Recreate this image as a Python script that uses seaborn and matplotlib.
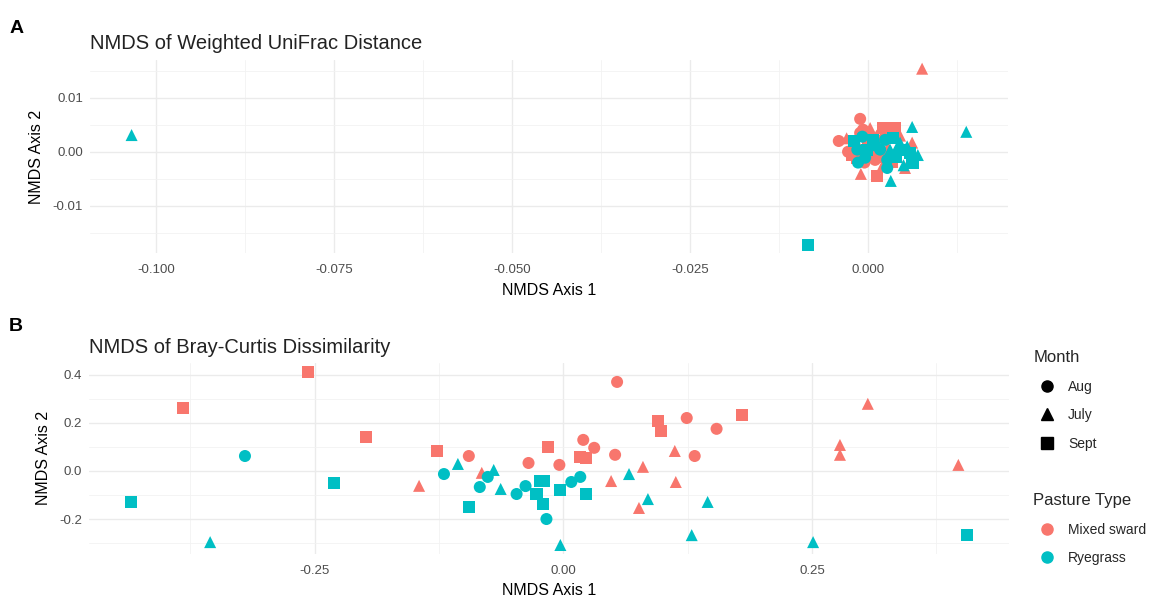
import matplotlib
matplotlib.use("Agg")
import matplotlib.pyplot as plt
from matplotlib.lines import Line2D
from matplotlib.ticker import MultipleLocator, FormatStrFormatter
import pandas as pd
import seaborn as sns

sns.set_theme(style="whitegrid")
plt.rcParams['font.family'] = ['Liberation Sans', 'DejaVu Sans']

months = ["Aug", "July", "Sept"]
pastures = ["Mixed sward", "Ryegrass"]
colors = {"Mixed sward": "#F8766D", "Ryegrass": "#00BFC4"}
markers = {"Aug": "o", "July": "^", "Sept": "s"}

# panel A: weighted UniFrac NMDS
a_mixed_x = [0.0076, -0.0011, -0.0041, -0.0010, 0.0013, 0.0062, 0.0041, 0.0052, 0.0021, 0.0031,
             -0.0007, 0.0003, -0.0028, -0.0022, 0.0007, 0.0017, 0.0021, -0.0011, 0.0038, 0.0000,
             0.0028, -0.0018, 0.0010, -0.0005, 0.0024, 0.0012, 0.0045, -0.0030, 0.0008, -0.0015, 0.0034]
a_mixed_y = [0.0154, 0.0061, 0.0020, -0.0041, -0.0044, 0.0017, -0.0009, -0.0030, 0.0044, 0.0044,
             0.0041, 0.0044, 0.0000, -0.0006, 0.0004, -0.0009, -0.0024, 0.0035, 0.0044, 0.0013,
             0.0009, 0.0010, -0.0015, -0.0020, 0.0028, 0.0030, 0.0030, 0.0025, 0.0020, -0.0012, -0.0018]
a_mixed_month = ["July", "Aug", "Aug", "July", "Sept", "July", "July", "July", "Sept", "Sept",
                 "Aug", "July", "Aug", "Sept", "Aug", "Sept", "July", "Aug", "Sept", "Sept",
                 "July", "Aug", "Aug", "Aug", "Aug", "July", "July", "July", "Sept", "Sept", "Sept"]

a_rye_x = [-0.1034, 0.0138, -0.0084, 0.0062, 0.0032, -0.0020, -0.0014, -0.0001, -0.0004, 0.0007,
           0.0024, 0.0035, 0.0041, 0.0049, 0.0059, 0.0063, 0.0070, 0.0062, 0.0027, 0.0017,
           -0.0015, 0.0031, 0.0027, 0.0045, 0.0010, 0.0055, 0.0040, -0.0008, 0.0050]
a_rye_y = [0.0031, 0.0037, -0.0172, 0.0046, -0.0054, 0.0020, -0.0020, 0.0004, -0.0011, 0.0022,
           0.0022, 0.0026, 0.0009, 0.0004, -0.0002, -0.0020, -0.0006, -0.0015, -0.0030, 0.0004,
           0.0004, 0.0004, -0.0015, 0.0017, 0.0012, 0.0010, -0.0010, 0.0028, -0.0025]
a_rye_month = ["July", "July", "Sept", "July", "July", "Sept", "Aug", "Sept", "Aug", "Sept",
               "Aug", "Sept", "July", "Sept", "Sept", "Sept", "July", "Sept", "Aug", "Aug",
               "Aug", "July", "Aug", "July", "Aug", "July", "Sept", "Aug", "July"]

# panel B: Bray-Curtis NMDS
b_mixed_x = [-0.382, -0.257, -0.198, -0.127, -0.015, 0.017, 0.023, 0.095, 0.098, 0.180,
             0.054, 0.020, 0.031, -0.035, -0.004, -0.095, 0.052, 0.124, 0.154, 0.132,
             -0.145, -0.082, 0.048, 0.080, 0.076, 0.112, 0.113, 0.306, 0.278, 0.278, 0.397]
b_mixed_y = [0.262, 0.412, 0.142, 0.083, 0.100, 0.058, 0.054, 0.208, 0.167, 0.233,
             0.370, 0.129, 0.096, 0.033, 0.025, 0.062, 0.067, 0.220, 0.175, 0.062,
             -0.062, -0.008, -0.042, 0.017, -0.154, 0.083, -0.046, 0.279, 0.108, 0.067, 0.025]
b_mixed_month = ["Sept"] * 10 + ["Aug"] * 10 + ["July"] * 11

b_rye_x = [-0.435, -0.231, -0.095, -0.027, -0.020, -0.023, -0.019, -0.003, 0.023, 0.406,
           -0.320, -0.120, -0.084, -0.076, -0.047, -0.038, 0.008, 0.017, -0.017,
           -0.355, -0.106, -0.070, -0.063, 0.066, 0.085, 0.129, 0.145, -0.003, 0.251]
b_rye_y = [-0.129, -0.050, -0.150, -0.096, -0.138, -0.042, -0.042, -0.079, -0.096, -0.267,
           0.062, -0.013, -0.067, -0.025, -0.096, -0.063, -0.046, -0.025, -0.200,
           -0.296, 0.029, 0.004, -0.075, -0.013, -0.117, -0.267, -0.129, -0.308, -0.296]
b_rye_month = ["Sept"] * 10 + ["Aug"] * 9 + ["July"] * 10


def make_df(mx, my, mm, rx, ry, rm):
    d1 = pd.DataFrame({"x": mx, "y": my, "Month": mm, "Pasture": "Mixed sward"})
    d2 = pd.DataFrame({"x": rx, "y": ry, "Month": rm, "Pasture": "Ryegrass"})
    return pd.concat([d1, d2], ignore_index=True)


df_a = make_df(a_mixed_x, a_mixed_y, a_mixed_month, a_rye_x, a_rye_y, a_rye_month)
df_b = make_df(b_mixed_x, b_mixed_y, b_mixed_month, b_rye_x, b_rye_y, b_rye_month)

fig = plt.figure(figsize=(11.52, 5.99), dpi=100)
ax_a = fig.add_axes([0.078, 0.577, 0.797, 0.323])
ax_b = fig.add_axes([0.077, 0.0757, 0.799, 0.318])


def style_axis(ax, title, xmaj, ymaj, xfmt, yfmt):
    ax.set_facecolor("white")
    for s in ax.spines.values():
        s.set_visible(False)
    ax.xaxis.set_major_locator(MultipleLocator(xmaj))
    ax.xaxis.set_minor_locator(MultipleLocator(xmaj / 2))
    ax.yaxis.set_major_locator(MultipleLocator(ymaj))
    ax.yaxis.set_minor_locator(MultipleLocator(ymaj / 2))
    ax.xaxis.set_major_formatter(FormatStrFormatter(xfmt))
    ax.yaxis.set_major_formatter(FormatStrFormatter(yfmt))
    ax.grid(which="major", color="#EBEBEB", linewidth=1.0)
    ax.grid(which="minor", color="#F2F2F2", linewidth=0.6)
    ax.tick_params(which="both", length=0, labelsize=9.5, labelcolor="#4D4D4D", pad=5)
    ax.tick_params(axis="x", pad=8)
    ax.set_xlabel("NMDS Axis 1", fontsize=11.5, color="black", labelpad=4.5)
    ax.set_ylabel("NMDS Axis 2", fontsize=11.5, color="black", labelpad=6)
    ax.set_title(title, loc="left", fontsize=14.5, color="#222222", pad=7.5)
    ax.set_axisbelow(True)


for ax, df in [(ax_a, df_a), (ax_b, df_b)]:
    sns.scatterplot(data=df, x="x", y="y", hue="Pasture", style="Month",
                    hue_order=pastures, style_order=months, palette=colors,
                    markers=markers, s=75, linewidth=0, legend=False, ax=ax)
    ax.margins(0.05)

style_axis(ax_a, "NMDS of Weighted UniFrac Distance", 0.025, 0.01, "%.3f", "%.2f")
style_axis(ax_b, "NMDS of Bray-Curtis Dissimilarity", 0.25, 0.2, "%.2f", "%.1f")

fig.text(0.008, 0.953, "A", fontsize=14, fontweight="heavy", color="black", va="center")
fig.text(0.008, 0.455, "B", fontsize=14, fontweight="heavy", color="black", va="center")

month_handles = [Line2D([], [], marker=markers[m], color="black", linestyle="",
                        markersize=8) for m in months]
pasture_handles = [Line2D([], [], marker="o", color=colors[p], linestyle="",
                          markersize=8) for p in pastures]

leg1 = fig.legend(month_handles, months, title="Month", loc="upper left",
                  bbox_to_anchor=(0.892, 0.425), frameon=False, fontsize=10,
                  title_fontsize=12, handletextpad=0.5, labelspacing=1.05,
                  alignment="left", borderaxespad=0)
leg2 = fig.legend(pasture_handles, pastures, title="Pasture Type", loc="upper left",
                  bbox_to_anchor=(0.892, 0.186), frameon=False, fontsize=10,
                  title_fontsize=12, handletextpad=0.5, labelspacing=1.05,
                  alignment="left", borderaxespad=0)

fig.savefig("out.png", dpi=100)
